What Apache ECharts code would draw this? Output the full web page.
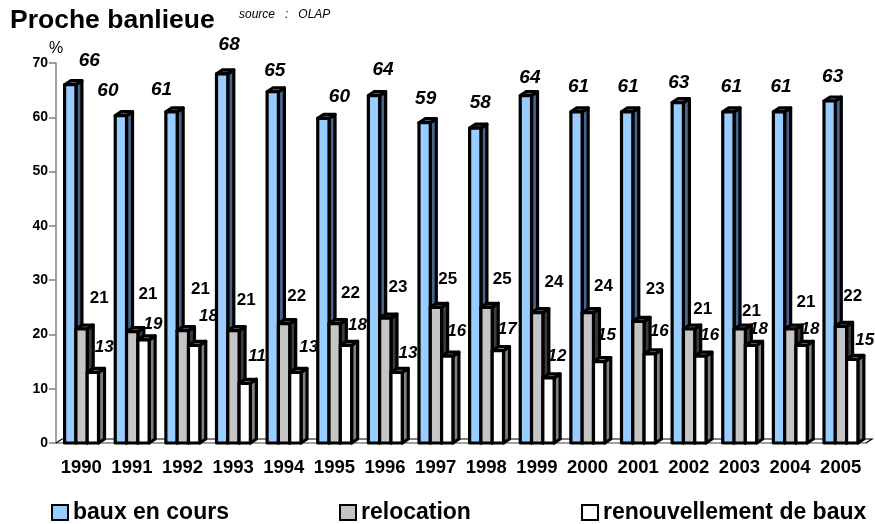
<!DOCTYPE html>
<html><head><meta charset="utf-8">
<style>html,body{margin:0;padding:0;background:#fff}#c{width:875px;height:524px}</style>
<script src="https://cdn.jsdelivr.net/npm/echarts@6/dist/echarts.min.js"></script>
</head><body><div id="c"></div>
<script>
const years=['1990','1991','1992','1993','1994','1995','1996','1997','1998','1999','2000','2001','2002','2003','2004','2005'];
const baux=[66,60.3,61,68,64.7,59.8,64,59,58,64,61,61,62.7,61,61,63];
const relocation=[21,20.5,20.7,20.7,22,22,23,25,25,24,24,22.4,21,21,21,21.5];
const renouvellement=[13,19,18,11,13,18,13,16,17,12,15,16.4,16,18,18,15.4];
const bauxLabels=[66,60,61,68,65,60,64,59,58,64,61,61,63,61,61,63];
const relocationLabels=[21,21,21,21,22,22,23,25,25,24,24,23,21,21,21,22];
const renouvellementLabels=[13,19,18,11,13,18,13,16,17,12,15,16,16,18,18,15];
// hand-placed label offsets from the band centre / bar top, in pixels
const bauxDx=[8,-24,-21,-4,-9,5,-2,-10,-6,-7,-9,-10,-10,-8,-9,-8];
const bauxDy=[-24,-25,-22,-29,-21,-22,-26,-24,-25,-18,-25,-25,-20,-25,-25,-24];
const relocationDx=[18,16,18,13,13,16,13,12,16,17,16,17,14,12,16,12];
const relocationDy=[-31,-37,-41,-30,-27,-30,-31,-28,-28,-30,-26,-32,-20,-18,-27,-30];
const renouvellementDx=[23,21,26,24,25,23,23,21,21,20,19,21,21,19,20,24];
const renouvellementDy=[-25,-16,-29,-27,-25,-20,-19,-25,-21,-22,-26,-23,-21,-16,-16,-19];

const FONT='"Liberation Sans",Arial,sans-serif';
const DEPTH_X=6, DEPTH_Y=4, BAR_W=11.3, GROUP_OFFSET=16.7, STROKE=3.2;

function dither(a,b){
  const cv=document.createElement('canvas');cv.width=cv.height=2;
  const x=cv.getContext('2d');
  x.fillStyle=a;x.fillRect(0,0,2,2);
  x.fillStyle=b;x.fillRect(0,0,1,1);x.fillRect(1,1,1,1);
  return {image:cv,repeat:'repeat'};
}

function barSeries(name,slot,values,labels,dx,dy,legendColor,front,side,top,labelStyle){
  return {
    type:'custom',name,coordinateSystem:'cartesian2d',
    itemStyle:{color:legendColor,borderColor:'#000',borderWidth:3},
    encode:{x:0,y:1},
    data:years.map((y,i)=>[i,values[i],labels[i],dx[i],dy[i]]),
    renderItem(params,api){
      const c=api.coord([api.value(0),api.value(1)]);
      const base=api.coord([api.value(0),0])[1];
      const x0=c[0]-GROUP_OFFSET+BAR_W*slot, x1=x0+BAR_W, yt=c[1];
      const line={stroke:'#000',lineWidth:STROKE,lineJoin:'round'};
      return {type:'group',children:[
        {type:'polygon',shape:{points:[[x1,yt],[x1+DEPTH_X,yt-DEPTH_Y],[x1+DEPTH_X,base-DEPTH_Y],[x1,base]]},style:Object.assign({fill:side},line)},
        {type:'polygon',shape:{points:[[x0,yt],[x0+DEPTH_X,yt-DEPTH_Y],[x1+DEPTH_X,yt-DEPTH_Y],[x1,yt]]},style:Object.assign({fill:top},line)},
        {type:'rect',shape:{x:x0,y:yt,width:BAR_W,height:base-yt},style:Object.assign({fill:front},line)},
        {type:'text',z2:100,x:c[0]+api.value(3),y:yt+api.value(4),
         style:{text:String(api.value(2)),align:'center',verticalAlign:'middle',fill:'#000',font:labelStyle}}
      ]};
    }
  };
}

const floorSeries={
  type:'custom',coordinateSystem:'cartesian2d',silent:true,data:[[0,0]],z:1,encode:{x:0,y:1},
  renderItem(params){
    const g=params.coordSys, yb=g.y+g.height, xr=g.x+g.width;
    const st={stroke:'#000',lineWidth:1.2,fill:null};
    return {type:'polyline',shape:{points:[[g.x,yb],[g.x+DEPTH_X,yb-DEPTH_Y],[xr+DEPTH_X,yb-DEPTH_Y],[xr,yb]]},style:st};
  }
};

const chart=echarts.init(document.getElementById('c'),null,{renderer:'canvas'});
const legendCommon={top:496,itemWidth:16,itemHeight:15,itemGap:6,icon:'rect',
  textStyle:{fontFamily:FONT,fontWeight:'bold',fontSize:23,color:'#000'},selectedMode:false};
chart.setOption({
  animation:false,backgroundColor:'#fff',
  title:[
    {text:'Proche banlieue',left:5,top:2,textStyle:{fontFamily:FONT,fontWeight:'bold',fontSize:26.5,color:'#000'}},
    {text:'source   :   OLAP',left:234,top:4,textStyle:{fontFamily:FONT,fontWeight:'normal',fontStyle:'italic',fontSize:12,color:'#000'}}
  ],
  grid:{left:56,top:63,width:810,height:380,containLabel:false},
  legend:[
    Object.assign({left:46,data:['baux en cours']},legendCommon),
    Object.assign({left:334,data:['relocation']},legendCommon),
    Object.assign({left:576,data:['renouvellement de baux']},legendCommon)
  ],
  xAxis:{type:'category',data:years,boundaryGap:true,
    axisLine:{lineStyle:{color:'#808080',width:1.5}},
    axisTick:{length:6,lineStyle:{color:'#808080',width:1.5}},
    axisLabel:{interval:0,fontFamily:FONT,fontWeight:'bold',fontSize:18.5,color:'#000',margin:15},
    splitLine:{show:false}},
  yAxis:{type:'value',min:0,max:70,interval:10,name:'%',nameLocation:'end',nameGap:5,
    nameTextStyle:{fontFamily:FONT,fontSize:16,color:'#000',align:'center'},
    axisLine:{show:true,lineStyle:{color:'#808080',width:1.5}},
    axisTick:{show:true,length:7,lineStyle:{color:'#808080',width:1.5}},
    axisLabel:{fontFamily:FONT,fontWeight:'bold',fontSize:14,color:'#000',margin:8},
    splitLine:{show:false}},
  series:[
    floorSeries,
    barSeries('baux en cours',0,baux,bauxLabels,bauxDx,bauxDy,'#99CCFF','#99CCFF','#47658A','#5B7FA6','italic bold 19px '+FONT),
    barSeries('relocation',1,relocation,relocationLabels,relocationDx,relocationDy,'#C4C4C4',dither('#CDCDCD','#BDBDBD'),'#3C3C3C','#666666','bold 17px '+FONT),
    barSeries('renouvellement de baux',2,renouvellement,renouvellementLabels,renouvellementDx,renouvellementDy,'#FFFFFF','#FFFFFF','#808080','#A0A0A0','italic bold 17px '+FONT)
  ]
});
</script></body></html>
